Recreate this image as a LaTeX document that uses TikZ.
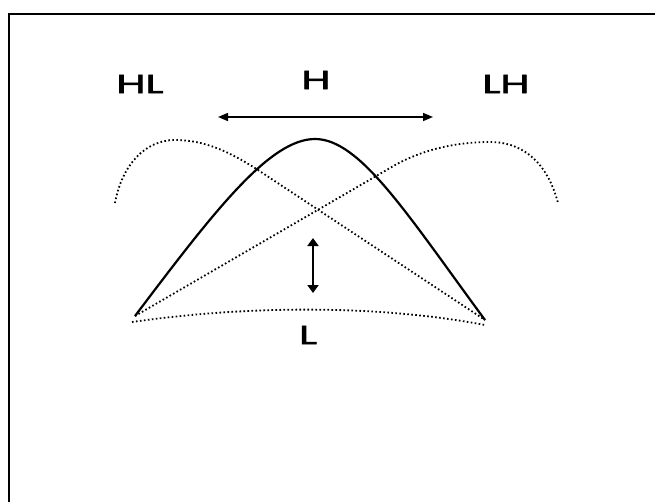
\documentclass[tikz,border=0pt]{standalone}
\usepackage{fontspec}
\setmainfont{Poppins}[FakeBold=1.6]
\usetikzlibrary{arrows.meta}
\tikzset{
  lbl/.style={inner sep=0pt, font=\fontsize{26}{26}\selectfont},
  dotcurve/.style={line width=1.8pt, dash pattern=on 1.6pt off 2.4pt, line cap=butt},
  maincurve/.style={line width=2.2pt},
  harrow/.style={line width=1.5pt, {Triangle[length=10pt,width=8pt]}-{Triangle[length=10pt,width=8pt]}},
  varrow/.style={line width=2.6pt, {Triangle[length=8pt,width=11pt]}-{Triangle[length=8pt,width=11pt]}},
}
\newcommand{\wide}[1]{\scalebox{1.62}[1]{#1}}
\begin{document}
\begin{tikzpicture}[x=1pt,y=-1pt]
\useasboundingbox (0,0) rectangle (655,501);
\clip (0,0) rectangle (655,501);
\fill[white] (0,0) rectangle (655,501);
% frame
\draw[line width=2pt] (9,700) -- (9,14) -- (700,14);
% labels
\node[lbl] (hl) at (140,84) {\wide{HL}};
\node[lbl] (h) at (316,80) {\wide{H}};
\node[lbl] (lh) at (506,84) {\wide{LH}};
\node[lbl] (l) at (308,335) {\wide{L}};
% key points
\coordinate (A) at (135,316);
\coordinate (C) at (485,320);
\coordinate (P) at (315,139);
\coordinate (B1) at (132,322);
\coordinate (B2) at (485,325);
% arrows
\coordinate (ha) at (218,117);
\coordinate (hb) at (433,117);
\draw[harrow] (ha) -- (hb);
\coordinate (va) at (313,238);
\coordinate (vb) at (313,293);
\draw[varrow] (va) -- (vb);
% main solid curve
\draw[maincurve] (A) .. controls (215,210) and (270,139) .. (P)
  .. controls (360,139) and (407,214) .. (C);
% HL dotted curve
\draw[dotcurve] (115,203) .. controls (122,165) and (145,140) .. (175,140)
  .. controls (205,140) and (230,152) .. (258,170) -- (C);
% LH dotted curve
\draw[dotcurve] (A) -- (390,168) .. controls (420,150) and (455,142) .. (490,142)
  .. controls (525,142) and (548,165) .. (558,203);
% bottom dotted curve
\draw[dotcurve] (B1) .. controls (250,305) and (380,305) .. (B2);
\end{tikzpicture}
\end{document}
